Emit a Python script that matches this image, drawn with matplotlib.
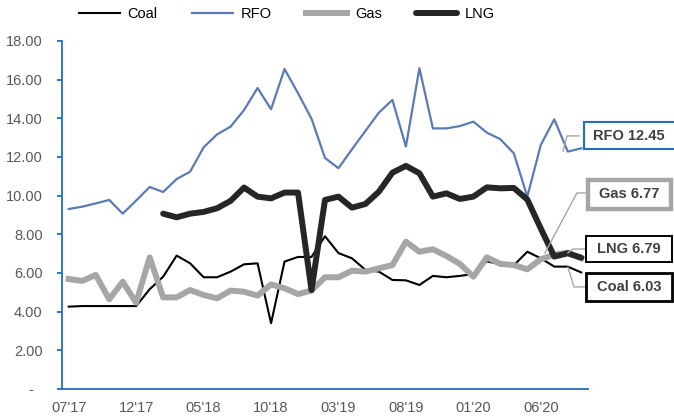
import numpy as np
import matplotlib
matplotlib.use("Agg")
import matplotlib.pyplot as plt
from matplotlib.patches import Rectangle
from matplotlib.ticker import FuncFormatter

plt.rcParams["font.family"] = ["Liberation Sans", "DejaVu Sans"]

# monthly prices, 07'17 .. 09'20
months = ["07'17", "08'17", "09'17", "10'17", "11'17", "12'17",
          "01'18", "02'18", "03'18", "04'18", "05'18", "06'18",
          "07'18", "08'18", "09'18", "10'18", "11'18", "12'18",
          "01'19", "02'19", "03'19", "04'19", "05'19", "06'19",
          "07'19", "08'19", "09'19", "10'19", "11'19", "12'19",
          "01'20", "02'20", "03'20", "04'20", "05'20", "06'20",
          "07'20", "08'20", "09'20"]

coal = [4.26, 4.29, 4.29, 4.29, 4.29, 4.29, 5.16, 5.81, 6.90, 6.50,
        5.78, 5.78, 6.07, 6.45, 6.50, 3.40, 6.59, 6.83, 6.83, 7.90,
        7.03, 6.76, 6.16, 6.07, 5.64, 5.62, 5.38, 5.85, 5.78, 5.85,
        5.95, 6.60, 6.45, 6.40, 7.10, 6.76, 6.33, 6.33, 6.03]

rfo = [9.31, 9.43, 9.60, 9.78, 9.07, 9.75, 10.45, 10.19, 10.86, 11.24,
       12.50, 13.17, 13.57, 14.43, 15.57, 14.47, 16.55, 15.30, 13.98, 11.95,
       11.42, 12.40, 13.35, 14.30, 14.95, 12.54, 16.59, 13.48, 13.48, 13.60,
       13.83, 13.26, 12.92, 12.19, 9.95, 12.62, 13.95, 12.28, 12.45]

gas = [5.69, 5.59, 5.90, 4.64, 5.55, 4.46, 6.81, 4.74, 4.74, 5.12,
       4.86, 4.69, 5.09, 5.03, 4.83, 5.41, 5.21, 4.91, 5.09, 5.78,
       5.78, 6.12, 6.07, 6.24, 6.41, 7.62, 7.10, 7.23, 6.88, 6.47,
       5.81, 6.81, 6.47, 6.41, 6.19, 6.71, 6.95, 7.05, 6.77]

lng = [np.nan] * 7 + [9.07, 8.88, 9.07, 9.16, 9.35, 9.73, 10.42, 9.95, 9.86,
                      10.16, 10.16, 5.12, 9.78, 9.95, 9.38, 9.57, 10.21, 11.19, 11.54,
                      11.16, 9.95, 10.12, 9.83, 9.95, 10.43, 10.38, 10.40, 9.80, 8.30,
                      6.85, 7.02, 6.79]

W, H = 674, 416
fig = plt.figure(figsize=(W / 100, H / 100), dpi=100)
ax = fig.add_axes([62 / W, 1 - 389 / H, 526 / W, 348 / H])

x = np.arange(len(months))
ax.plot(x, coal, color="black", lw=1.5, label="Coal")
ax.plot(x, rfo, color="#5A7BB5", lw=1.6, label="RFO")
ax.plot(x, gas, color="#A6A6A6", lw=4.3, label="Gas", solid_joinstyle="round")
ax.plot(x, lng, color="#262626", lw=4.3, label="LNG", solid_joinstyle="round",
        solid_capstyle="round")

ax.set_xlim(-0.5, len(months) - 0.5)
ax.set_ylim(0, 18)
ax.set_yticks(np.arange(0, 18.1, 2))
ax.yaxis.set_major_formatter(FuncFormatter(lambda v, p: "-  " if v == 0 else f"{v:.2f}"))
ax.set_xticks(x[::5])
ax.set_xticklabels(months[::5])

blue = "#1F6FC5"
for s in ["top", "right"]:
    ax.spines[s].set_visible(False)
for s in ["left", "bottom"]:
    ax.spines[s].set_color(blue)
    ax.spines[s].set_linewidth(1.3)
ax.tick_params(axis="y", colors=blue, labelcolor="#595959", labelsize=10.5,
               length=3.5, width=1.3, pad=10.5)
ax.tick_params(axis="x", length=0, labelcolor="#595959", labelsize=10.5, pad=9)

fig.legend(loc="center", bbox_to_anchor=(287 / W, 1 - 14 / H), ncol=4,
           frameon=False, fontsize=10.5, handlelength=2.8, handletextpad=0.55,
           columnspacing=2.35)


# callout labels at the right end of each series
def px(xp, yp):
    return xp / W, 1 - yp / H


def callout(text, box, edge, lw, leader, text_x=None):
    x0, y0, x1, y1 = box
    fx0, fy1 = px(x0, y1)
    rect = Rectangle((fx0, fy1), (x1 - x0) / W, (y1 - y0) / H,
                     transform=fig.transFigure, facecolor="white",
                     edgecolor=edge, lw=lw, clip_on=False, zorder=5)
    fig.add_artist(rect)
    cy = (y0 + y1) / 2
    if text_x is None:
        fig.text(*px((x0 + x1) / 2, cy), text, ha="center", va="center",
                 fontsize=10.5, fontweight="bold", color="#404040", zorder=6)
    else:
        fig.text(*px(text_x, cy), text, ha="left", va="center",
                 fontsize=10.5, fontweight="bold", color="#404040", zorder=6)
    lx, ly = zip(*leader)
    ax.plot(lx, ly, color="#A6A6A6", lw=1, clip_on=False, zorder=4)


callout(f"RFO {rfo[-1]:.2f}", (584, 122, 690, 149), blue, 1.5,
        [(37.83, 13.09), (36.95, 13.09), (36.65, 12.31)], text_x=593)
callout(f"Gas {gas[-1]:.2f}", (588, 180, 671, 209), "#A6A6A6", 3.2,
        [(38.35, 10.14), (37.68, 10.14), (35.31, 7.04)])
callout(f"LNG {lng[-1]:.2f}", (586, 236, 672, 262), "black", 1.4,
        [(38.3, 7.24), (37.39, 7.24), (37.01, 7.04)])
callout(f"Coal {coal[-1]:.2f}", (586, 273, 672, 301), "black", 2.0,
        [(38.3, 5.28), (37.46, 5.28), (37.01, 6.31)])

fig.savefig("out.png", dpi=100)
